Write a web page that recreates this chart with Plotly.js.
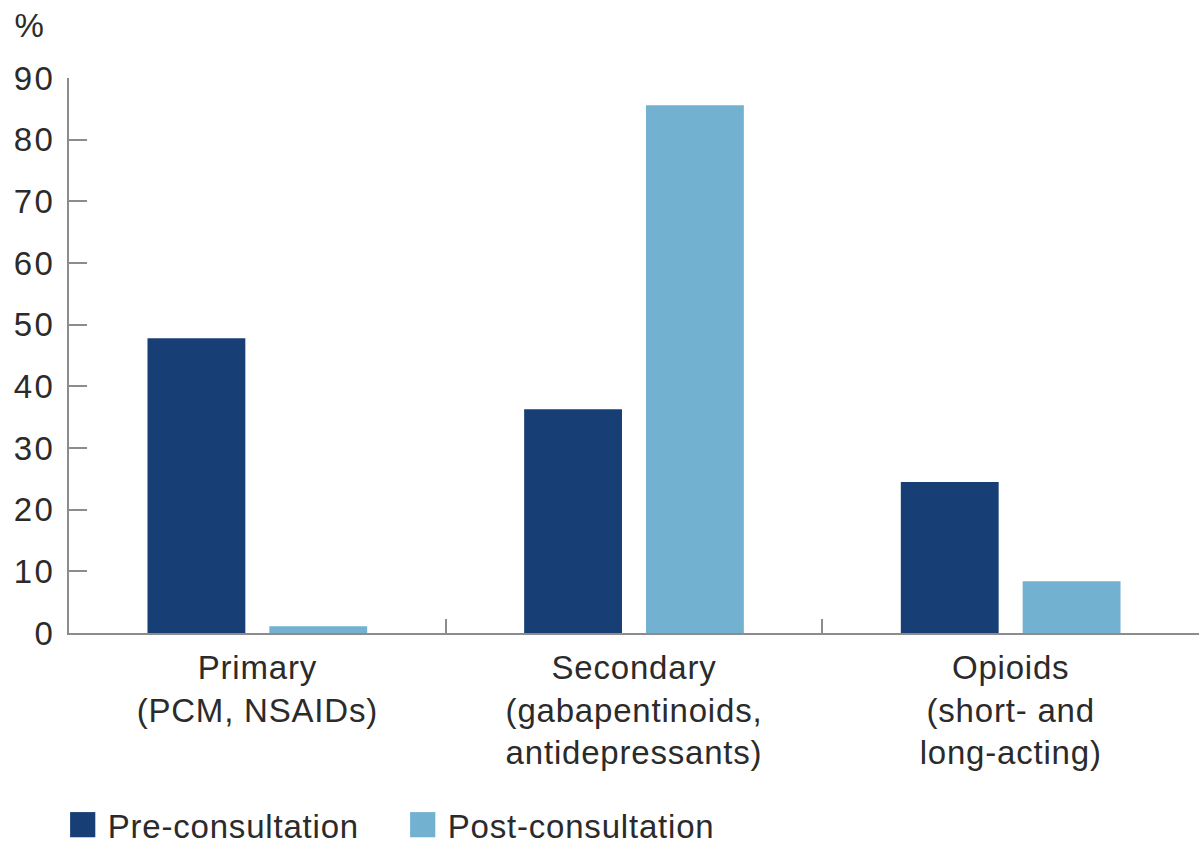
<!DOCTYPE html>
<html><head><meta charset="utf-8">
<script src="https://cdn.plot.ly/plotly-3.0.1.min.js"></script>
<style>html,body{margin:0;padding:0;background:#fff}#chart{width:1204px;height:845px}
#chart text{letter-spacing:0.8px}
#chart .ytick text{letter-spacing:2.5px}
</style>
</head><body><div id="chart"></div>
<script>
const categories = ["Primary<br>(PCM, NSAIDs)", "Secondary<br>(gabapentinoids,<br>antidepressants)", "Opioids<br>(short- and<br>long-acting)"];
const seriesNames = ["Pre-consultation", "Post-consultation"];
const preValues = [47.8, 36.3, 24.5];
const postValues = [1.1, 85.6, 8.4];
const yTicks = [0, 10, 20, 30, 40, 50, 60, 70, 80, 90];

const FONT = "Liberation Sans, Arial, sans-serif";
const TXT = "#2b2b2b";
const AX = "#8c8c8c";
const FS = 33;

const traces = [
  {type: "bar", name: seriesNames[0], x: categories, y: preValues,
   marker: {color: "#173f75"}, hoverinfo: "y"},
  {type: "bar", name: seriesNames[1], x: categories, y: postValues,
   marker: {color: "#73b1d0"}, hoverinfo: "y"}
];

const layout = {
  width: 1204, height: 845,
  paper_bgcolor: "#fff", plot_bgcolor: "#fff",
  margin: {l: 69, r: 5, t: 78, b: 212, autoexpand: false},
  barmode: "group", bargap: 0.353, bargroupgap: 0.197,
  font: {family: FONT, color: TXT, size: FS},
  showlegend: true,
  legend: {orientation: "h", x: -0.01, xanchor: "left", y: -0.295, yanchor: "top",
           font: {size: FS, color: TXT}, itemwidth: 40, entrywidth: 285,
           traceorder: "normal", bgcolor: "rgba(0,0,0,0)"},
  xaxis: {
    type: "category", range: [-0.5, 2.5], fixedrange: true, automargin: false,
    showline: true, linecolor: AX, linewidth: 2,
    ticks: "inside", tickson: "boundaries", ticklen: 14, tickwidth: 2, tickcolor: AX,
    ticklabelstandoff: 4,
    tickfont: {size: FS, color: TXT}, showgrid: false, zeroline: false
  },
  yaxis: {
    range: [0, 90], tickvals: yTicks, fixedrange: true, automargin: false,
    showline: true, linecolor: AX, linewidth: 2,
    ticks: "inside", ticklen: 18, tickwidth: 2, tickcolor: AX,
    ticklabelstandoff: 5,
    tickfont: {size: FS, color: TXT}, showgrid: false, zeroline: false
  },
  annotations: [{text: "%", xref: "paper", yref: "paper", x: -0.05, y: 1.095,
                 xanchor: "left", yanchor: "middle", showarrow: false,
                 font: {size: FS, color: TXT}}]
};

Plotly.newPlot("chart", traces, layout, {displayModeBar: false, staticPlot: true}).then(function(gd){
  gd.querySelectorAll(".legend .scrollbox").forEach(function(s){ s.removeAttribute("clip-path"); });
  gd.querySelectorAll(".legendpoints path").forEach(function(p){
    var t = p.getAttribute("transform") || "";
    p.setAttribute("transform", t + " scale(2.1)");
  });
});
</script></body></html>
